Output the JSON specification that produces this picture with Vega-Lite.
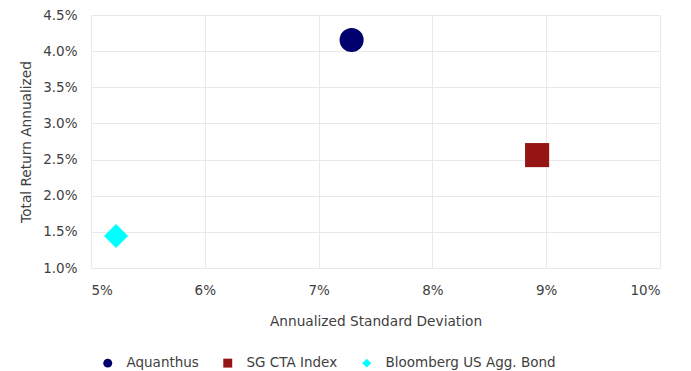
{
  "$schema": "https://vega.github.io/schema/vega-lite/v6.json",
  "autosize": {"type": "none"},
  "padding": {"left": 91, "top": 15, "right": 31, "bottom": 103},
  "width": 569,
  "height": 253,
  "background": "white",
  "config": {
    "font": "DejaVu Sans",
    "view": {"stroke": null},
    "axis": {
      "labelFont": "DejaVu Sans",
      "titleFont": "DejaVu Sans",
      "labelFontSize": 13.5,
      "titleFontSize": 13.7,
      "labelColor": "#404040",
      "titleColor": "#404040",
      "titleFontWeight": "normal",
      "gridColor": "#e9e9e9",
      "gridWidth": 1,
      "domain": false,
      "ticks": false
    },
    "legend": {
      "labelFont": "DejaVu Sans",
      "labelFontSize": 13.5,
      "labelColor": "#404040",
      "symbolSize": 80,
      "labelLimit": 400
    }
  },
  "data": {
    "values": [
      {"series": "Aquanthus", "sd": 0.0729, "ret": 0.04155},
      {"series": "SG CTA Index", "sd": 0.0892, "ret": 0.02562},
      {"series": "Bloomberg US Agg. Bond", "sd": 0.0522, "ret": 0.01443}
    ]
  },
  "mark": {"type": "point", "filled": true, "opacity": 1, "size": 580},
  "encoding": {
    "x": {
      "field": "sd", "type": "quantitative",
      "scale": {"domain": [0.05, 0.10], "nice": false, "zero": false},
      "axis": {"format": ".0%", "values": [0.05, 0.06, 0.07, 0.08, 0.09, 0.10], "title": "Annualized Standard Deviation", "labelPadding": 15, "titlePadding": 18}
    },
    "y": {
      "field": "ret", "type": "quantitative",
      "scale": {"domain": [0.01, 0.045], "nice": false, "zero": false},
      "axis": {"format": ".1%", "values": [0.01, 0.015, 0.02, 0.025, 0.03, 0.035, 0.04, 0.045], "title": "Total Return Annualized", "labelPadding": 14, "titlePadding": 9}
    },
    "color": {
      "field": "series", "type": "nominal",
      "scale": {"domain": ["Aquanthus", "SG CTA Index", "Bloomberg US Agg. Bond"], "range": ["#00006E", "#951414", "#00FFFF"]},
      "legend": {"title": null, "orient": "none", "direction": "horizontal", "legendX": 10, "legendY": 341, "symbolSize": 80, "labelOffset": 12, "columnPadding": 22, "labelLimit": 400}
    },
    "shape": {
      "field": "series", "type": "nominal",
      "scale": {"domain": ["Aquanthus", "SG CTA Index", "Bloomberg US Agg. Bond"], "range": ["circle", "square", "diamond"]},
      "legend": null
    }
  }
}
